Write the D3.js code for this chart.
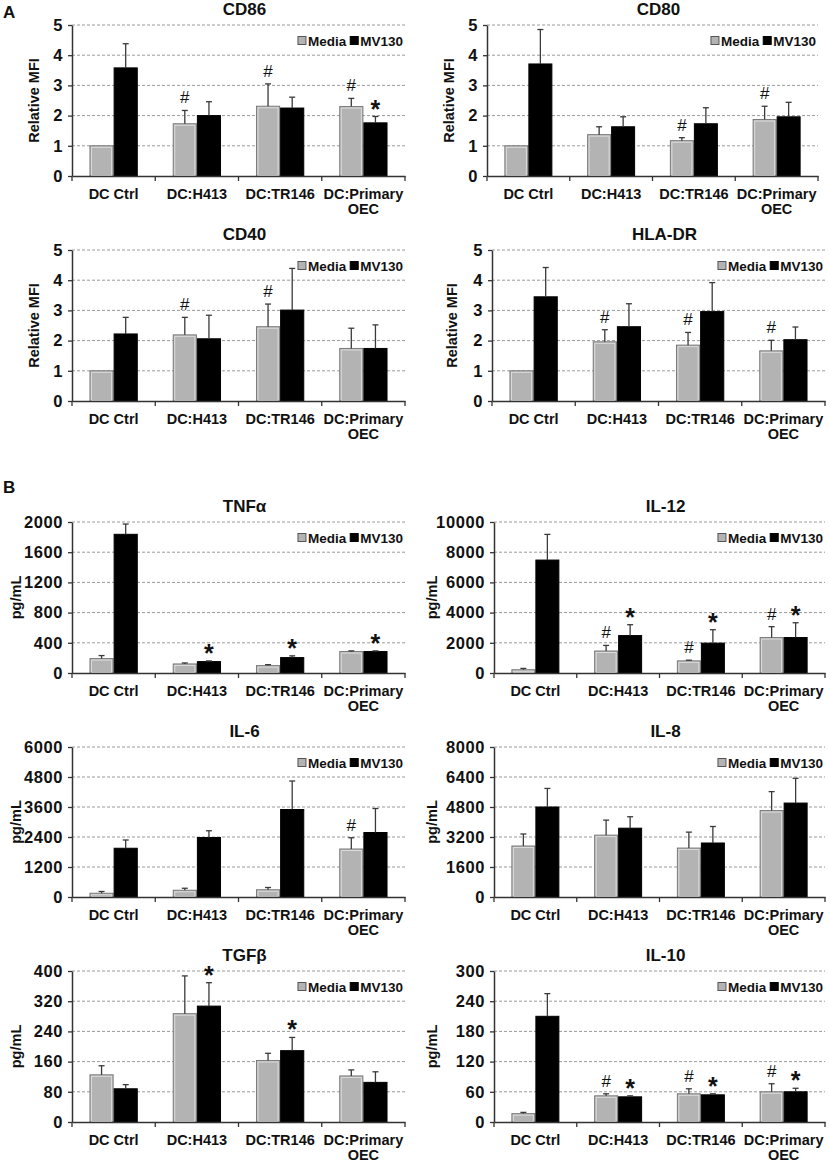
<!DOCTYPE html>
<html>
<head>
<meta charset="utf-8">
<script src="https://cdn.jsdelivr.net/npm/d3@7"></script>
<style>
  body { margin: 0; background: #fff; }
  text { font-family: "Liberation Sans", Arial, sans-serif; fill: #111; }
</style>
</head>
<body>
<svg id="fig" width="829" height="1163"></svg>
<script>
// ---- Data ----
const categories = ['DC Ctrl', 'DC:H413', 'DC:TR146', 'DC:Primary OEC']
const series = ['Media', 'MV130']

const mfiTicks = [0, 1, 2, 3, 4, 5]
const tnfTicks = [0, 400, 800, 1200, 1600, 2000]
const il12Ticks = [0, 2000, 4000, 6000, 8000, 10000]
const il6Ticks = [0, 1200, 2400, 3600, 4800, 6000]
const il8Ticks = [0, 1600, 3200, 4800, 6400, 8000]
const tgfTicks = [0, 80, 160, 240, 320, 400]
const il10Ticks = [0, 60, 120, 180, 240, 300]

// mean and SD (upper error only) per category
const cd86Media = [1.00, 1.73, 2.31, 2.30]
const cd86MediaSd = [0, 0.44, 0.74, 0.27]
const cd86Mv130 = [3.58, 2.00, 2.25, 1.76]
const cd86Mv130Sd = [0.80, 0.46, 0.36, 0.21]

const cd80Media = [1.00, 1.37, 1.17, 1.87]
const cd80MediaSd = [0, 0.26, 0.10, 0.44]
const cd80Mv130 = [3.71, 1.63, 1.73, 1.96]
const cd80Mv130Sd = [1.14, 0.33, 0.53, 0.48]

const cd40Media = [1.00, 2.19, 2.46, 1.74]
const cd40MediaSd = [0, 0.58, 0.75, 0.67]
const cd40Mv130 = [2.22, 2.06, 3.01, 1.74]
const cd40Mv130Sd = [0.55, 0.78, 1.38, 0.78]

const hladrMedia = [1.00, 1.96, 1.85, 1.66]
const hladrMediaSd = [0, 0.40, 0.42, 0.35]
const hladrMv130 = [3.45, 2.46, 2.96, 2.03]
const hladrMv130Sd = [0.97, 0.76, 0.96, 0.42]

const tnfMedia = [191, 120, 98, 284]
const tnfMediaSd = [40, 13, 13, 9]
const tnfMv130 = [1837, 151, 204, 284]
const tnfMv130Sd = [136, 9, 23, 9]

const il12Media = [217, 1456, 804, 2348]
const il12MediaSd = [87, 370, 44, 720]
const il12Mv130 = [7480, 2478, 1978, 2348]
const il12Mv130Sd = [1700, 720, 890, 980]

const il6Media = [150, 270, 290, 1920]
const il6MediaSd = [70, 80, 90, 450]
const il6Mv130 = [1950, 2380, 3500, 2580]
const il6Mv130Sd = [330, 270, 1140, 960]

const il8Media = [2720, 3300, 2610, 4610]
const il8MediaSd = [640, 800, 850, 1010]
const il8Mv130 = [4800, 3670, 2880, 5010]
const il8Mv130Sd = [990, 610, 880, 1320]

const tgfMedia = [125, 287, 163, 122]
const tgfMediaSd = [24, 100, 19, 16]
const tgfMv130 = [88, 307, 189, 105]
const tgfMv130Sd = [11, 62, 35, 28]

const il10Media = [16.6, 52, 56, 60]
const il10MediaSd = [2.5, 4, 10, 16]
const il10Mv130 = [210, 50, 54, 60]
const il10Mv130Sd = [45, 2, 2, 7]

// significance marks (# vs DC Ctrl media, * vs DC Ctrl MV130)
const cd86Marks = [['', '#', '#', '#'], ['', '', '', '*']]
const cd80Marks = [['', '', '#', '#'], ['', '', '', '']]
const cd40Marks = [['', '#', '#', ''], ['', '', '', '']]
const hladrMarks = [['', '#', '#', '#'], ['', '', '', '']]
const tnfMarks = [['', '', '', ''], ['', '*', '*', '*']]
const il12Marks = [['', '#', '#', '#'], ['', '*', '*', '*']]
const il6Marks = [['', '', '', '#'], ['', '', '', '']]
const il8Marks = [['', '', '', ''], ['', '', '', '']]
const tgfMarks = [['', '', '', ''], ['', '*', '*', '']]
const il10Marks = [['', '#', '#', '#'], ['', '*', '*', '*']]

// ---- Layout ----
const svg = d3.select('#fig')

const panels = [
    { title: 'CD86', ylabel: 'Relative MFI', ticks: mfiTicks, media: cd86Media, mediaSd: cd86MediaSd, mv: cd86Mv130, mvSd: cd86Mv130Sd, marks: cd86Marks, left: 72, right: 405, top: 25, bottom: 176, labOff: 38 },
    { title: 'CD80', ylabel: 'Relative MFI', ticks: mfiTicks, media: cd80Media, mediaSd: cd80MediaSd, mv: cd80Mv130, mvSd: cd80Mv130Sd, marks: cd80Marks, left: 487, right: 818, top: 25, bottom: 176, labOff: 38 },
    { title: 'CD40', ylabel: 'Relative MFI', ticks: mfiTicks, media: cd40Media, mediaSd: cd40MediaSd, mv: cd40Mv130, mvSd: cd40Mv130Sd, marks: cd40Marks, left: 72, right: 405, top: 250, bottom: 401, labOff: 38 },
    { title: 'HLA-DR', ylabel: 'Relative MFI', ticks: mfiTicks, media: hladrMedia, mediaSd: hladrMediaSd, mv: hladrMv130, mvSd: hladrMv130Sd, marks: hladrMarks, left: 492, right: 825, top: 250, bottom: 401, labOff: 40 },
    { title: 'TNFα', ylabel: 'pg/mL', ticks: tnfTicks, media: tnfMedia, mediaSd: tnfMediaSd, mv: tnfMv130, mvSd: tnfMv130Sd, marks: tnfMarks, left: 72, right: 405, top: 522, bottom: 673, labOff: 56 },
    { title: 'IL-12', ylabel: 'pg/mL', ticks: il12Ticks, media: il12Media, mediaSd: il12MediaSd, mv: il12Mv130, mvSd: il12Mv130Sd, marks: il12Marks, left: 494, right: 825, top: 522, bottom: 673, labOff: 62 },
    { title: 'IL-6', ylabel: 'pg/mL', ticks: il6Ticks, media: il6Media, mediaSd: il6MediaSd, mv: il6Mv130, mvSd: il6Mv130Sd, marks: il6Marks, left: 72, right: 405, top: 747, bottom: 897, labOff: 56 },
    { title: 'IL-8', ylabel: 'pg/mL', ticks: il8Ticks, media: il8Media, mediaSd: il8MediaSd, mv: il8Mv130, mvSd: il8Mv130Sd, marks: il8Marks, left: 494, right: 825, top: 747, bottom: 897, labOff: 62 },
    { title: 'TGFβ', ylabel: 'pg/mL', ticks: tgfTicks, media: tgfMedia, mediaSd: tgfMediaSd, mv: tgfMv130, mvSd: tgfMv130Sd, marks: tgfMarks, left: 72, right: 405, top: 971, bottom: 1122, labOff: 56 },
    { title: 'IL-10', ylabel: 'pg/mL', ticks: il10Ticks, media: il10Media, mediaSd: il10MediaSd, mv: il10Mv130, mvSd: il10Mv130Sd, marks: il10Marks, left: 494, right: 825, top: 971, bottom: 1122, labOff: 62 }
]

const colors = { 'Media': '#b3b3b3', 'MV130': '#000000' }
const strokes = { 'Media': '#7a7a7a', 'MV130': '#000000' }

function drawPanel(p) {
    const g = svg.append('g')

    const x = d3.scaleBand().domain(categories).range([p.left, p.right])
    const bw = x.bandwidth()
    const xs = d3.scaleBand().domain(series).range([0.21 * bw, 0.79 * bw])
    const y = d3.scaleLinear().domain([0, d3.max(p.ticks)]).range([p.bottom, p.top])

    // grid lines
    g.append('g').selectAll('line')
        .data(p.ticks.slice(1))
        .enter()
        .append('line')
        .attr('x1', p.left).attr('x2', p.right)
        .attr('y1', d => y(d)).attr('y2', d => y(d))
        .attr('stroke', '#9a9a9a')
        .attr('stroke-width', 1)
        .attr('stroke-dasharray', '3,2')

    // rows of bars
    const rows = []
    categories.forEach((c, i) => {
        rows.push({ cat: c, s: 'Media', v: p.media[i], sd: p.mediaSd[i], mark: p.marks[0][i] })
        rows.push({ cat: c, s: 'MV130', v: p.mv[i], sd: p.mvSd[i], mark: p.marks[1][i] })
    })

    g.append('g').selectAll('rect')
        .data(rows)
        .enter()
        .append('rect')
        .attr('x', d => x(d.cat) + xs(d.s) + 0.5)
        .attr('width', xs.bandwidth() - 1)
        .attr('y', d => y(d.v))
        .attr('height', d => y(0) - y(d.v))
        .attr('fill', d => colors[d.s])
        .attr('stroke', d => strokes[d.s])
        .attr('stroke-width', 1)

    // light inner edge on Media bars
    g.append('g').selectAll('rect')
        .data(rows.filter(d => d.s === 'Media'))
        .enter()
        .append('rect')
        .attr('x', d => x(d.cat) + xs(d.s) + 2)
        .attr('width', xs.bandwidth() - 4)
        .attr('y', d => y(d.v) + 1.5)
        .attr('height', d => Math.max(0, y(0) - y(d.v) - 2))
        .attr('fill', 'none')
        .attr('stroke', '#dcdcdc')
        .attr('stroke-width', 1)

    // error bars (upper only)
    const errs = rows.filter(d => d.sd > 0)
    const eg = g.append('g').attr('stroke', '#3a3a3a').attr('stroke-width', 1.3)
    eg.selectAll('.v')
        .data(errs)
        .enter()
        .append('line')
        .attr('x1', d => x(d.cat) + xs(d.s) + xs.bandwidth() / 2)
        .attr('x2', d => x(d.cat) + xs(d.s) + xs.bandwidth() / 2)
        .attr('y1', d => y(d.v))
        .attr('y2', d => y(d.v + d.sd))
    eg.selectAll('.cap')
        .data(errs)
        .enter()
        .append('line')
        .attr('x1', d => x(d.cat) + xs(d.s) + xs.bandwidth() / 2 - 3)
        .attr('x2', d => x(d.cat) + xs(d.s) + xs.bandwidth() / 2 + 3)
        .attr('y1', d => y(d.v + d.sd))
        .attr('y2', d => y(d.v + d.sd))

    // significance marks
    g.append('g').selectAll('text')
        .data(rows.filter(d => d.mark !== ''))
        .enter()
        .append('text')
        .attr('x', d => x(d.cat) + xs(d.s) + xs.bandwidth() / 2)
        .attr('y', d => y(d.v + d.sd) - (d.mark === '*' ? -1 : 7))
        .attr('text-anchor', 'middle')
        .attr('font-size', d => d.mark === '*' ? 25 : 17)
        .attr('font-weight', d => d.mark === '*' ? 'bold' : 'normal')
        .text(d => d.mark)

    // y axis
    const yAxis = g.append('g')
        .attr('transform', 'translate(' + p.left + ',0)')
        .call(d3.axisLeft(y).tickValues(p.ticks).tickFormat(d3.format('d')).tickSize(4).tickSizeOuter(0).tickPadding(5))
    yAxis.select('.domain').attr('stroke', '#333').attr('stroke-width', 1.5)
    yAxis.selectAll('.tick line').attr('stroke', '#333').attr('stroke-width', 1.3)
    yAxis.selectAll('.tick text')
        .attr('font-size', 16.5)
        .attr('font-weight', 'bold')
        .attr('fill', '#111')
        .style('letter-spacing', '0.6px')
        .style('font-family', '"Liberation Sans", Arial, sans-serif')

    // x axis
    const xAxis = g.append('g')
        .attr('transform', 'translate(0,' + p.bottom + ')')
        .call(d3.axisBottom(x).tickSize(0).tickSizeOuter(0).tickFormat(''))
    xAxis.select('.domain').attr('stroke', '#333').attr('stroke-width', 1.5)

    g.append('g').selectAll('line')
        .data(categories.map(c => x(c)).concat([p.right]))
        .enter()
        .append('line')
        .attr('x1', d => d).attr('x2', d => d)
        .attr('y1', p.bottom).attr('y2', p.bottom + 5)
        .attr('stroke', '#333')
        .attr('stroke-width', 1.3)

    const labels = g.append('g').selectAll('text')
        .data(categories)
        .enter()
        .append('text')
        .attr('x', d => x(d) + bw / 2)
        .attr('y', p.bottom + 23)
        .attr('text-anchor', 'middle')
        .attr('font-size', 14.5)
        .attr('font-weight', 'bold')
    labels.selectAll('tspan')
        .data(d => d.includes(':') ? d.split(' ') : [d])
        .enter()
        .append('tspan')
        .attr('x', function () { return d3.select(this.parentNode).attr('x') })
        .attr('dy', (d, i) => i === 0 ? 0 : 15)
        .text(d => d)

    // title
    g.append('text')
        .attr('x', (p.left + p.right) / 2 + 6)
        .attr('y', p.top - 10)
        .attr('text-anchor', 'middle')
        .attr('font-size', 17)
        .attr('font-weight', 'bold')
        .text(p.title)

    // y label
    g.append('text')
        .attr('transform', 'translate(' + (p.left - p.labOff + 5) + ',' + ((p.top + p.bottom) / 2) + ') rotate(-90)')
        .attr('text-anchor', 'middle')
        .attr('font-size', 14.5)
        .attr('font-weight', 'bold')
        .text(p.ylabel)

    // legend, right aligned
    const lg = g.append('g')
    let cx = 0
    series.forEach((s, i) => {
        if (i > 0) cx += 4
        lg.append('rect')
            .attr('x', cx).attr('y', -4.5)
            .attr('width', 8).attr('height', 8)
            .attr('fill', colors[s])
            .attr('stroke', s === 'Media' ? '#555' : '#000')
            .attr('stroke-width', 1)
        cx += 10
        const t = lg.append('text')
            .attr('x', cx).attr('y', 4.5)
            .attr('font-size', 13.5)
            .attr('font-weight', 'bold')
            .text(s)
        cx += t.node().getComputedTextLength()
    })
    lg.attr('transform', 'translate(' + (p.right - 2 - cx) + ',' + (p.top + 16) + ')')
}

panels.forEach(drawPanel)

// panel letters
svg.append('text').attr('x', 3).attr('y', 18).attr('font-size', 17).attr('font-weight', 'bold').text('A')
svg.append('text').attr('x', 3).attr('y', 493).attr('font-size', 17).attr('font-weight', 'bold').text('B')
</script>
</body>
</html>
